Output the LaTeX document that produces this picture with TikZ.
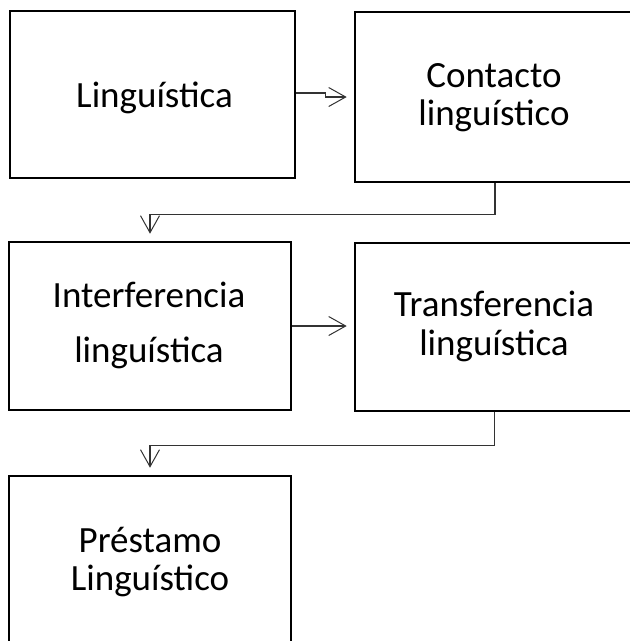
\documentclass[tikz,border=0pt]{standalone}
\usepackage{fontspec}
\setmainfont{Carlito}
\usetikzlibrary{arrows.meta}
\begin{document}
\begin{tikzpicture}[x=1pt,y=-1pt,
  box/.style={draw=black,line width=2.6pt,inner sep=0pt},
  lbl/.style={align=center,inner sep=0pt,anchor=base,
    font=\fontsize{37}{38}\selectfont},
  conn/.style={draw=black!80,line width=1.1pt,
    -{Straight Barb[length=17pt,width=19pt,line width=1pt]},shorten >=7pt}]
\clip (0,0) rectangle (630,641);
\fill[white] (0,0) rectangle (630,641);
\node[box,minimum width=285pt,minimum height=167pt] (b1) at (152.5,94.5) {};
\node[box,minimum width=280pt,minimum height=170pt] (b2) at (495,97) {};
\node[box,minimum width=282pt,minimum height=168pt] (b3) at (150,326) {};
\node[box,minimum width=279pt,minimum height=168pt] (b4) at (494.5,327) {};
\node[box,minimum width=282pt,minimum height=172pt] (b5) at (150,562) {};
\node[lbl] (t1) at (154.5,107) {Linguística};
\node[lbl] (t2) at (494,125) {Contacto\\linguístico};
\node[lbl] (t3) at (149,362) {Interferencia\\[17pt]linguística};
\node[lbl] (t4) at (494,355) {Transferencia\\[1pt]linguística};
\node[lbl] (t5) at (150,590) {Préstamo\\Linguístico};
\draw[conn] (b1.east) ++(0,-1.5) -- ++(29,0) |- (b2.west);
\draw[conn] (b3.east) -- (b3.east -| b4.west);
\draw[conn] (b2.south) -- ++(0,31) -| (b3.north);
\draw[conn] (b4.south) -- ++(0,33) -| (b5.north);
\end{tikzpicture}
\end{document}
